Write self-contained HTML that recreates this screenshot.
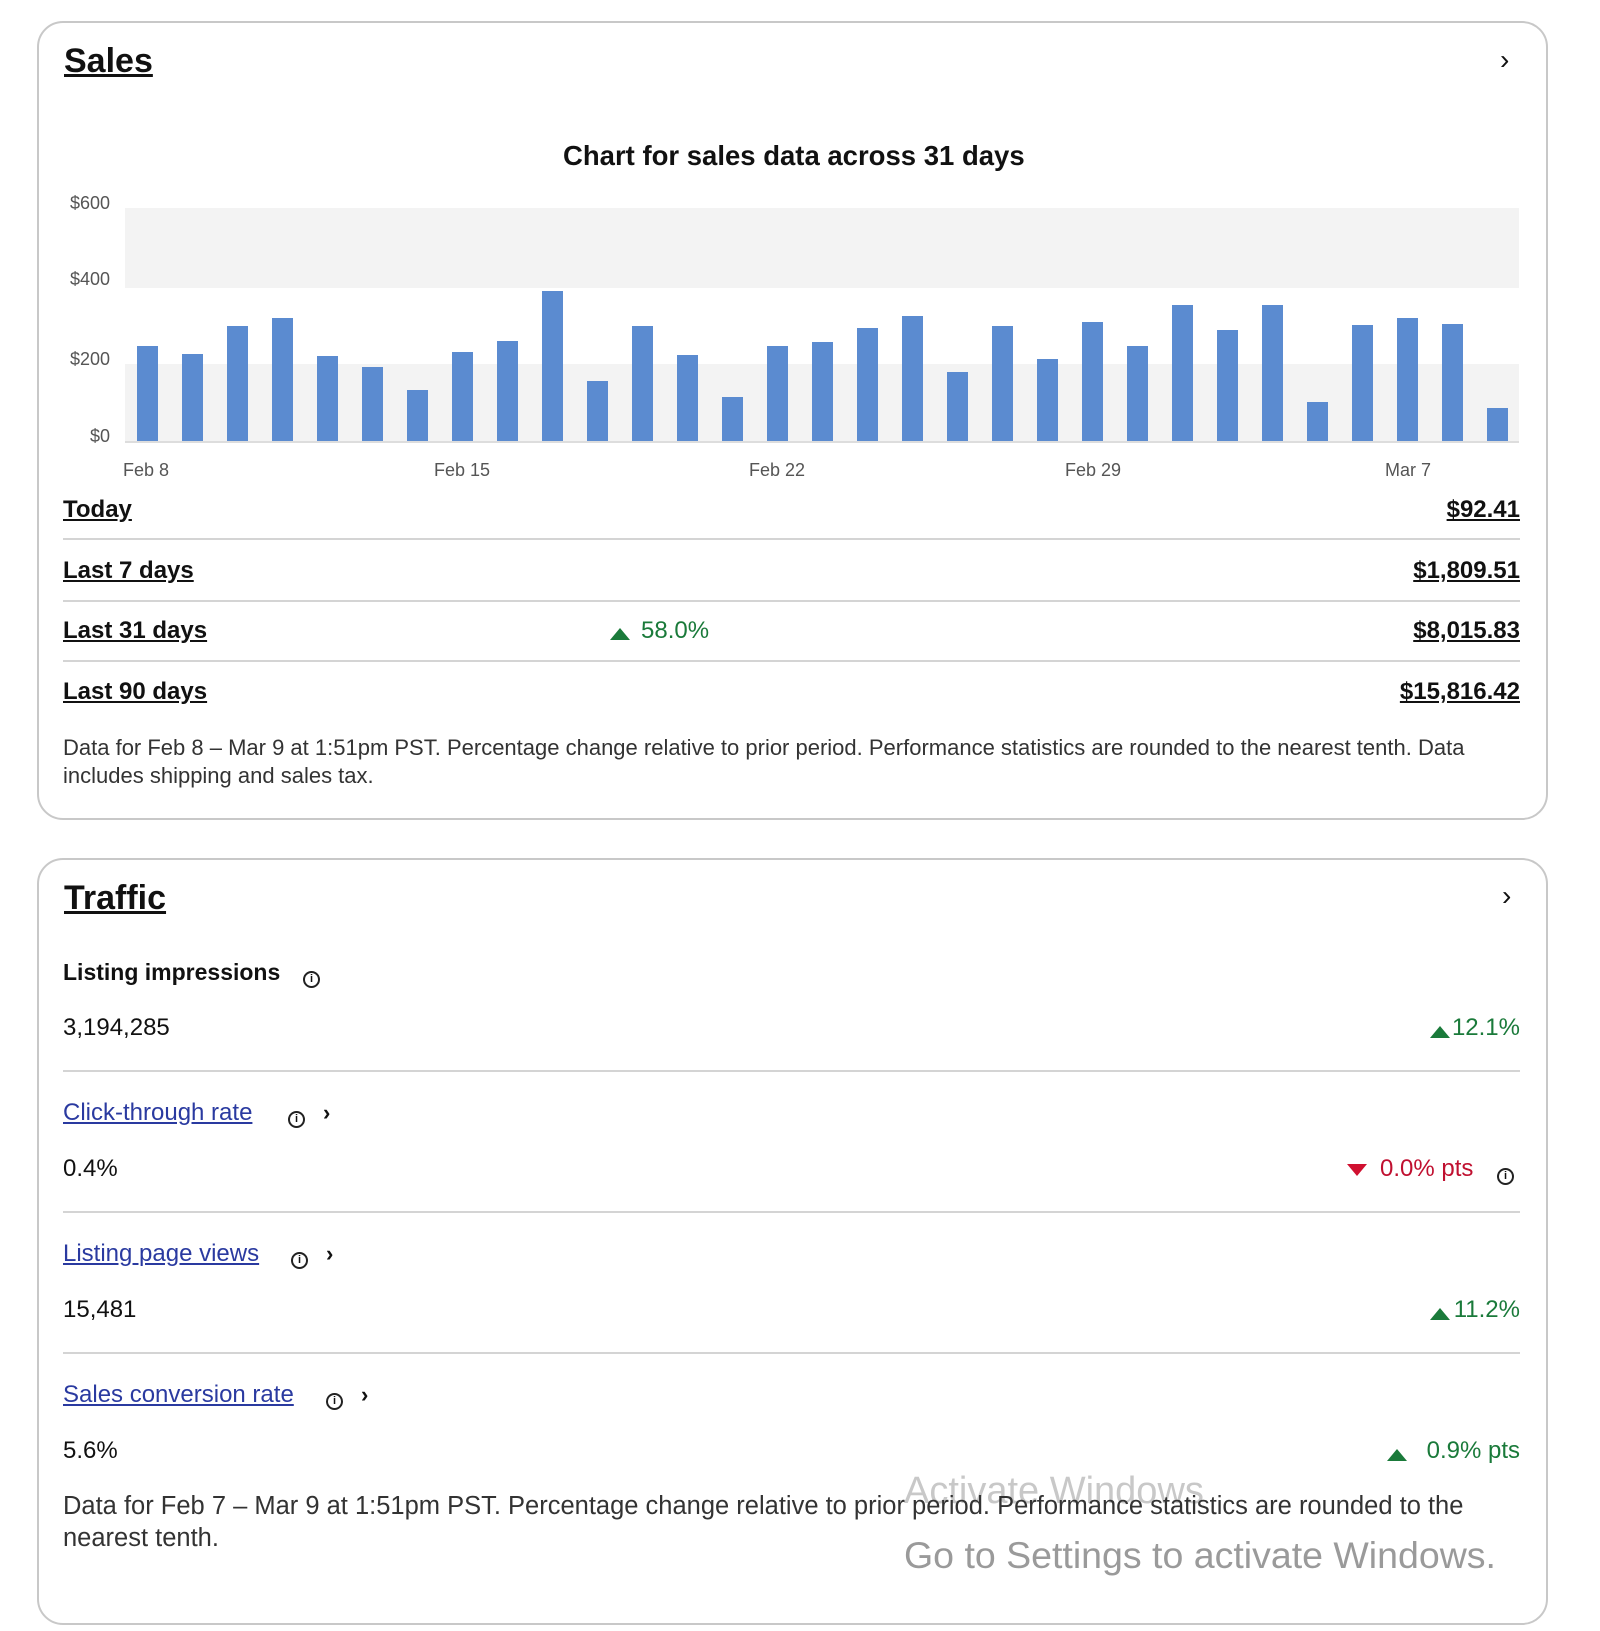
<!DOCTYPE html>
<html><head><meta charset="utf-8"><style>
*{margin:0;padding:0;box-sizing:border-box}
body{width:1600px;height:1631px;background:#fff;position:relative;overflow:hidden;font-family:"Liberation Sans",sans-serif;color:#111}
.card{position:absolute;left:37px;width:1511px;border:2px solid #c8c8c8;border-radius:26px;background:#fff}
.t{position:absolute;white-space:nowrap}
.b{font-weight:bold}
.u{text-decoration:underline}
.r{right:80px;text-align:right}
.hl{position:absolute;left:63px;width:1457px;height:2px;background:#d4d4d4}
.lnk{color:#2a3aa0;text-decoration:underline}
.info{position:absolute;width:17px;height:17px;border:2px solid #222;border-radius:50%;font-size:11px;line-height:13px;text-align:center;font-weight:bold}
.up{position:absolute;width:0;height:0;border-left:10px solid transparent;border-right:10px solid transparent;border-bottom:12px solid #1a7a3a}
.dn{position:absolute;width:0;height:0;border-left:10px solid transparent;border-right:10px solid transparent;border-top:12px solid #d01030}
</style></head><body>
<div class="card" style="top:21px;height:799px"></div>
<div class="card" style="top:858px;height:767px"></div>

<div class="t b u" style="left:64px;top:42px;font-size:34px">Sales</div>
<div class="t" style="left:1500px;top:44px;font-size:28px">›</div>
<div class="t b" style="left:563px;top:140px;font-size:27.5px">Chart for sales data across 31 days</div>

<svg style="position:absolute;left:0;top:0" width="1600" height="480">
<rect x="125" y="208" width="1394" height="80" fill="#f3f3f3"/>
<rect x="125" y="364" width="1394" height="78" fill="#f3f3f3"/>
<g font-family="Liberation Sans" font-size="18" fill="#555">
<text x="110" y="209" text-anchor="end">$600</text>
<text x="110" y="285" text-anchor="end">$400</text>
<text x="110" y="365" text-anchor="end">$200</text>
<text x="110" y="442" text-anchor="end">$0</text>
<text x="146" y="476" text-anchor="middle">Feb 8</text>
<text x="462" y="476" text-anchor="middle">Feb 15</text>
<text x="777" y="476" text-anchor="middle">Feb 22</text>
<text x="1093" y="476" text-anchor="middle">Feb 29</text>
<text x="1408" y="476" text-anchor="middle">Mar 7</text>
</g>
<g fill="#5b8bd0">
<rect x="137" y="346" width="21" height="96"/>
<rect x="182" y="354" width="21" height="88"/>
<rect x="227" y="326" width="21" height="116"/>
<rect x="272" y="318" width="21" height="124"/>
<rect x="317" y="356" width="21" height="86"/>
<rect x="362" y="367" width="21" height="75"/>
<rect x="407" y="390" width="21" height="52"/>
<rect x="452" y="352" width="21" height="90"/>
<rect x="497" y="341" width="21" height="101"/>
<rect x="542" y="291" width="21" height="151"/>
<rect x="587" y="381" width="21" height="61"/>
<rect x="632" y="326" width="21" height="116"/>
<rect x="677" y="355" width="21" height="87"/>
<rect x="722" y="397" width="21" height="45"/>
<rect x="767" y="346" width="21" height="96"/>
<rect x="812" y="342" width="21" height="100"/>
<rect x="857" y="328" width="21" height="114"/>
<rect x="902" y="316" width="21" height="126"/>
<rect x="947" y="372" width="21" height="70"/>
<rect x="992" y="326" width="21" height="116"/>
<rect x="1037" y="359" width="21" height="83"/>
<rect x="1082" y="322" width="21" height="120"/>
<rect x="1127" y="346" width="21" height="96"/>
<rect x="1172" y="305" width="21" height="137"/>
<rect x="1217" y="330" width="21" height="112"/>
<rect x="1262" y="305" width="21" height="137"/>
<rect x="1307" y="402" width="21" height="40"/>
<rect x="1352" y="325" width="21" height="117"/>
<rect x="1397" y="318" width="21" height="124"/>
<rect x="1442" y="324" width="21" height="118"/>
<rect x="1487" y="408" width="21" height="34"/>
</g>
<line x1="125" y1="442" x2="1519" y2="442" stroke="#ddd" stroke-width="2"/>
</svg>

<div class="t b u" style="left:63px;top:496px;font-size:24px">Today</div>
<div class="t b u r" style="top:496px;font-size:24px">$92.41</div>
<div class="hl" style="top:538px"></div>
<div class="t b u" style="left:63px;top:557px;font-size:24px">Last 7 days</div>
<div class="t b u r" style="top:557px;font-size:24px">$1,809.51</div>
<div class="hl" style="top:600px"></div>
<div class="t b u" style="left:63px;top:617px;font-size:24px">Last 31 days</div>
<div class="up" style="left:610px;top:628px"></div>
<div class="t" style="left:641px;top:617px;font-size:24px;color:#1a7a3a">58.0%</div>
<div class="t b u r" style="top:617px;font-size:24px">$8,015.83</div>
<div class="hl" style="top:660px"></div>
<div class="t b u" style="left:63px;top:678px;font-size:24px">Last 90 days</div>
<div class="t b u r" style="top:678px;font-size:24px">$15,816.42</div>
<div class="t" style="left:63px;top:734px;font-size:22px;line-height:28px;color:#333;white-space:normal;width:1430px">Data for Feb 8 – Mar 9 at 1:51pm PST. Percentage change relative to prior period. Performance statistics are rounded to the nearest tenth. Data includes shipping and sales tax.</div>

<div class="t b u" style="left:64px;top:879px;font-size:34px">Traffic</div>
<div class="t" style="left:1502px;top:880px;font-size:28px">›</div>

<div class="t b" style="left:63px;top:959px;font-size:23px">Listing impressions</div>
<div class="info" style="left:303px;top:971px">i</div>
<div class="t" style="left:63px;top:1014px;font-size:24px">3,194,285</div>
<div class="up" style="left:1430px;top:1026px"></div>
<div class="t r" style="top:1014px;font-size:24px;color:#1a7a3a">12.1%</div>
<div class="hl" style="top:1070px"></div>

<div class="t lnk" style="left:63px;top:1099px;font-size:24px">Click-through rate</div>
<div class="info" style="left:288px;top:1111px">i</div>
<div class="t b" style="left:323px;top:1100px;font-size:22px">›</div>
<div class="t" style="left:63px;top:1155px;font-size:24px">0.4%</div>
<div class="dn" style="left:1347px;top:1164px"></div>
<div class="t" style="left:1380px;top:1155px;font-size:24px;color:#c01030">0.0% pts</div>
<div class="info" style="left:1497px;top:1168px">i</div>
<div class="hl" style="top:1211px"></div>

<div class="t lnk" style="left:63px;top:1240px;font-size:24px">Listing page views</div>
<div class="info" style="left:291px;top:1252px">i</div>
<div class="t b" style="left:326px;top:1241px;font-size:22px">›</div>
<div class="t" style="left:63px;top:1296px;font-size:24px">15,481</div>
<div class="up" style="left:1430px;top:1308px"></div>
<div class="t r" style="top:1296px;font-size:24px;color:#1a7a3a">11.2%</div>
<div class="hl" style="top:1352px"></div>

<div class="t lnk" style="left:63px;top:1381px;font-size:24px">Sales conversion rate</div>
<div class="info" style="left:326px;top:1393px">i</div>
<div class="t b" style="left:361px;top:1382px;font-size:22px">›</div>
<div class="t" style="left:63px;top:1437px;font-size:24px">5.6%</div>
<div class="up" style="left:1387px;top:1449px"></div>
<div class="t r" style="top:1437px;font-size:24px;color:#1a7a3a">0.9% pts</div>

<div class="t" style="left:904px;top:1470px;font-size:38px;color:#c8c8c8">Activate Windows</div>
<div class="t" style="left:63px;top:1490px;font-size:25.5px;line-height:32px;color:#333;white-space:normal;width:1430px">Data for Feb 7 – Mar 9 at 1:51pm PST. Percentage change relative to prior period. Performance statistics are rounded to the nearest tenth.</div>
<div class="t" style="left:904px;top:1534px;font-size:37.5px;color:#9a9a9a">Go to Settings to activate Windows.</div>
</body></html>
